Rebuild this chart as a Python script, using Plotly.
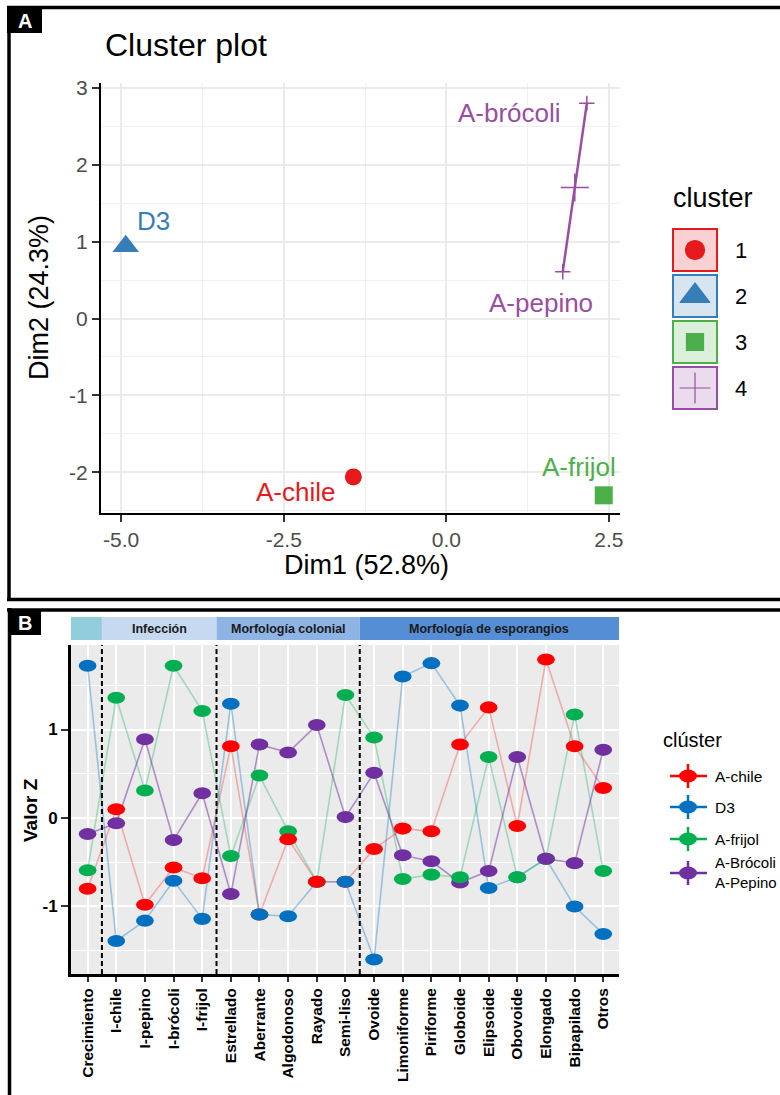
import plotly.graph_objects as go

W, H = 780, 1095


def px(x):
    return x / W


def py(y):
    return 1 - y / H


FONT = "Liberation Sans, Arial, sans-serif"

# ---------------- Panel A: PCA cluster plot ----------------
sample_names = ["D3", "A-chile", "A-frijol", "A-brócoli", "A-pepino"]
dim1 = [-4.93, -1.43, 2.42, 2.16, 1.79]
dim2 = [0.94, -2.06, -2.30, 2.80, 0.61]
cluster_id = [2, 1, 3, 4, 4]
cluster_levels = [1, 2, 3, 4]
dim1_ticks = [-5.0, -2.5, 0.0, 2.5]
dim2_ticks = [-2, -1, 0, 1, 2, 3]

cluster_colors = ["#E41A1C", "#377EB8", "#4DAF4A", "#984EA3"]
cluster_fills = ["rgba(228,26,28,0.2)", "rgba(55,126,184,0.2)",
                 "rgba(77,175,74,0.2)", "rgba(152,78,163,0.2)"]
cluster_symbols = ["circle", "triangle-up", "square", "cross-thin-open"]
single_sizes = [17, 23, 18, 20]

# ---------------- Panel B: Z-score profiles ----------------
variables = ["Crecimiento", "I-chile", "I-pepino", "I-brócoli", "I-frijol",
             "Estrellado", "Aberrante", "Algodonoso", "Rayado", "Semi-liso",
             "Ovoide", "Limoniforme", "Piriforme", "Globoide", "Elipsoide",
             "Obovoide", "Elongado", "Bipapilado", "Otros"]
group_names = ["", "Infección", "Morfología colonial", "Morfología de esporangios"]
group_sizes = [1, 4, 5, 9]
group_colors = ["#92CDDC", "#C6D9F1", "#8DB4E2", "#558ED5"]
z_ticks = [-1, 0, 1]

series_names = ["A-chile", "D3", "A-frijol", "A-Brócoli\nA-Pepino"]
z_chile = [-0.80, 0.10, -0.98, -0.56, -0.68, 0.81, -1.09, -0.24, -0.72, -0.72,
           -0.35, -0.12, -0.15, 0.83, 1.25, -0.09, 1.79, 0.81, 0.34]
z_d3 = [1.72, -1.39, -1.16, -0.71, -1.14, 1.29, -1.09, -1.11, -0.72, -0.72,
        -1.60, 1.60, 1.75, 1.27, -0.79, -0.67, -0.46, -1.00, -1.31]
z_frijol = [-0.59, 1.36, 0.31, 1.72, 1.21, -0.43, 0.48, -0.15, -0.72, 1.39,
            0.91, -0.69, -0.64, -0.67, 0.69, -0.67, -0.46, 1.17, -0.60]
z_broc_pep = [-0.18, -0.06, 0.89, -0.25, 0.28, -0.86, 0.83, 0.74, 1.05, 0.01,
              0.51, -0.42, -0.49, -0.73, -0.60, 0.69, -0.46, -0.51, 0.77]
series_values = [z_chile, z_d3, z_frijol, z_broc_pep]
series_colors = ["#FF0000", "#0070C0", "#00B050", "#7030A0"]
series_lines = ["rgba(255,0,0,0.28)", "rgba(0,112,192,0.35)",
                "rgba(0,176,80,0.32)", "rgba(112,48,160,0.5)"]
# stacking of overlapping points (last drawn is on top)
default_stack = [0, 1, 2, 3]
stack_override = {"Algodonoso": [1, 2, 0, 3], "Rayado": [1, 2, 0, 3],
                  "Globoide": [0, 1, 3, 2]}


def fmt_tick(v, dec):
    return f"{v:.{dec}f}".replace("\u2212", "-")


fig = go.Figure()
shapes = []
annotations = []

# ---- Panel A traces
for k, c in enumerate(cluster_levels):
    idx = [i for i, cid in enumerate(cluster_id) if cid == c]
    xs = [dim1[i] for i in idx]
    ys = [dim2[i] for i in idx]
    col = cluster_colors[k]
    if len(idx) > 1:
        fig.add_trace(go.Scatter(x=xs, y=ys, mode="lines", xaxis="x", yaxis="y",
                                 line=dict(color=col, width=2.5),
                                 showlegend=False, hoverinfo="skip"))
        fig.add_trace(go.Scatter(x=xs, y=ys, mode="markers", xaxis="x", yaxis="y",
                                 marker=dict(symbol=cluster_symbols[k], size=11,
                                             color=col, line=dict(color=col, width=1.5)),
                                 text=[sample_names[i] for i in idx],
                                 showlegend=False))
        cx = sum(xs) / len(xs)
        cy = sum(ys) / len(ys)
        fig.add_trace(go.Scatter(x=[cx], y=[cy], mode="markers", xaxis="x", yaxis="y",
                                 marker=dict(symbol=cluster_symbols[k], size=20,
                                             color=col, line=dict(color=col, width=1.5)),
                                 showlegend=False, hoverinfo="skip"))
    else:
        fig.add_trace(go.Scatter(x=xs, y=ys, mode="markers", xaxis="x", yaxis="y",
                                 marker=dict(symbol=cluster_symbols[k],
                                             size=single_sizes[k], color=col,
                                             line=dict(width=0)),
                                 text=[sample_names[i] for i in idx],
                                 showlegend=False))

# point labels
label_anchor = ["left", "right", "right", "right", "right"]
label_dx = [9, -16, 14, -24, 32]
label_dy = [25, -15, 28, -10, -31]
for i, name in enumerate(sample_names):
    k = cluster_levels.index(cluster_id[i])
    annotations.append(dict(x=dim1[i], y=dim2[i], xref="x", yref="y", text=name,
                            showarrow=False, xanchor=label_anchor[i], yanchor="middle",
                            xshift=label_dx[i], yshift=label_dy[i],
                            font=dict(size=26, color=cluster_colors[k], family=FONT)))

# ---- Panel B traces
pos = list(range(len(variables)))
for s, name in enumerate(series_names):
    fig.add_trace(go.Scatter(x=pos, y=series_values[s], mode="lines",
                             xaxis="x2", yaxis="y2",
                             line=dict(color=series_lines[s], width=1.6),
                             name=name.replace("\n", " / "), showlegend=False,
                             text=variables, hoverinfo="text+y+name"))

# plot background for panel B
shapes.append(dict(type="rect", xref="x2 domain", yref="y2 domain", x0=0, x1=1, y0=0, y1=1,
                   fillcolor="#EBEBEB", line=dict(width=0), layer="below"))

# group strips and separators
X2_RANGE = [-0.58, 18.55]
bounds = [X2_RANGE[0]]
acc = 0
for g in group_sizes[:-1]:
    acc += g
    bounds.append(acc - 0.5)
bounds.append(X2_RANGE[1])
acc = 0
for g, gname in enumerate(group_names):
    shapes.append(dict(type="rect", xref="x2", yref="paper",
                       x0=bounds[g], x1=bounds[g + 1], y0=py(640), y1=py(617),
                       fillcolor=group_colors[g], line=dict(width=0), layer="above"))
    centre = acc + (group_sizes[g] - 1) / 2
    acc += group_sizes[g]
    if gname:
        annotations.append(dict(x=centre, y=py(629), xref="x2", yref="paper", text=gname,
                                showarrow=False, xanchor="center", yanchor="middle",
                                font=dict(size=12.5, color="#1A1A1A", family=FONT,
                                          weight="bold")))
for b in bounds[1:-1]:
    shapes.append(dict(type="line", xref="x2", yref="y2 domain", x0=b, x1=b, y0=0, y1=1,
                       line=dict(color="black", width=2, dash="5px,3px"), layer="above"))

# elliptical point marks
EW, EH = 0.31, 0.068
for i, var in enumerate(variables):
    for s in stack_override.get(var, default_stack):
        v = series_values[s][i]
        shapes.append(dict(type="circle", xref="x2", yref="y2",
                           x0=pos[i] - EW, x1=pos[i] + EW, y0=v - EH, y1=v + EH,
                           fillcolor=series_colors[s], line=dict(width=0), layer="above"))

# ---- Panel A legend (boxes + symbols on a pixel-space axis)
leg_y = [250, 296, 342, 388]
leg_sizes = [19, 26, 17, 22]
for k, c in enumerate(cluster_levels):
    shapes.append(dict(type="rect", xref="paper", yref="paper", layer="below",
                       x0=px(673), x1=px(717), y0=py(leg_y[k] + 21), y1=py(leg_y[k] - 21),
                       fillcolor=cluster_fills[k], line=dict(color=cluster_colors[k], width=2)))
    annotations.append(dict(x=px(733), y=py(leg_y[k]), xref="paper", yref="paper",
                            text=str(c), showarrow=False, xanchor="left", yanchor="middle",
                            font=dict(size=22, color="black", family=FONT)))
fig.add_trace(go.Scatter(x=[695] * 4, y=leg_y, mode="markers", xaxis="x3", yaxis="y3",
                         marker=dict(symbol=cluster_symbols, size=leg_sizes,
                                     color=cluster_colors, opacity=1,
                                     line=dict(color=cluster_colors, width=1.2)),
                         showlegend=False, hoverinfo="skip"))
annotations.append(dict(x=px(671), y=py(198), xref="paper", yref="paper", text="cluster",
                        showarrow=False, xanchor="left", yanchor="middle",
                        font=dict(size=27, color="black", family=FONT)))

# ---- Panel B legend
legB_y = [776, 807, 839, 873]
for s, name in enumerate(series_names):
    yc = legB_y[s]
    col = series_colors[s]
    shapes.append(dict(type="line", xref="paper", yref="paper", x0=px(670), x1=px(707),
                       y0=py(yc), y1=py(yc), line=dict(color=col, width=2.5)))
    shapes.append(dict(type="line", xref="paper", yref="paper", x0=px(688), x1=px(688),
                       y0=py(yc - 12), y1=py(yc + 12), line=dict(color=col, width=2.5)))
    shapes.append(dict(type="circle", xref="paper", yref="paper", x0=px(679), x1=px(697),
                       y0=py(yc + 6.5), y1=py(yc - 6.5), fillcolor=col, line=dict(width=0)))
    annotations.append(dict(x=px(713), y=py(yc), xref="paper", yref="paper",
                            text=name.replace("\n", "<br>"), showarrow=False,
                            xanchor="left", yanchor="middle", align="left",
                            font=dict(size=15.5 if "\n" not in name else 15,
                                      color="black", family=FONT)))
annotations.append(dict(x=px(661), y=py(740), xref="paper", yref="paper", text="clúster",
                        showarrow=False, xanchor="left", yanchor="middle",
                        font=dict(size=20, color="black", family=FONT)))

# ---- Titles
annotations += [
    dict(x=px(103), y=py(45), xref="paper", yref="paper", text="Cluster plot",
         showarrow=False, xanchor="left", yanchor="middle",
         font=dict(size=32, color="black", family=FONT)),
    dict(x=px(366), y=py(565), xref="paper", yref="paper", text="Dim1 (52.8%)",
         showarrow=False, xanchor="center", yanchor="middle",
         font=dict(size=27, color="black", family=FONT)),
    dict(x=px(39), y=py(298), xref="paper", yref="paper", text="Dim2 (24.3%)",
         showarrow=False, xanchor="center", yanchor="middle", textangle=-90,
         font=dict(size=27, color="black", family=FONT)),
    dict(x=px(30), y=py(810), xref="paper", yref="paper", text="Valor Z",
         showarrow=False, xanchor="center", yanchor="middle", textangle=-90,
         font=dict(size=19, color="black", family=FONT, weight="bold")),
]

# ---- Panel frames and tags
frame = dict(color="black", width=3.5)
shapes += [
    dict(type="line", xref="paper", yref="paper", x0=px(7), x1=px(790), y0=py(7.5), y1=py(7.5), line=frame),
    dict(type="line", xref="paper", yref="paper", x0=px(9), x1=px(9), y0=py(6), y1=py(601), line=frame),
    dict(type="line", xref="paper", yref="paper", x0=px(7), x1=px(790), y0=py(599.5), y1=py(599.5), line=frame),
    dict(type="line", xref="paper", yref="paper", x0=px(7), x1=px(790), y0=py(610), y1=py(610), line=frame),
    dict(type="line", xref="paper", yref="paper", x0=px(9.5), x1=px(9.5), y0=py(608), y1=py(1100), line=frame),
    dict(type="rect", xref="paper", yref="paper", x0=px(7), x1=px(42), y0=py(33), y1=py(8),
         fillcolor="black", line=dict(width=0)),
    dict(type="rect", xref="paper", yref="paper", x0=px(8), x1=px(41), y0=py(635), y1=py(609),
         fillcolor="black", line=dict(width=0)),
]
annotations += [
    dict(x=px(24.5), y=py(21), xref="paper", yref="paper", text="A", showarrow=False,
         xanchor="center", yanchor="middle",
         font=dict(size=20, color="white", family=FONT, weight="bold")),
    dict(x=px(24.5), y=py(622.5), xref="paper", yref="paper", text="B", showarrow=False,
         xanchor="center", yanchor="middle",
         font=dict(size=20, color="white", family=FONT, weight="bold")),
]

fig.update_layout(
    width=W, height=H,
    margin=dict(l=0, r=0, t=0, b=0, autoexpand=False),
    paper_bgcolor="white",
    plot_bgcolor="rgba(0,0,0,0)",
    font=dict(family=FONT),
    showlegend=False,
    shapes=shapes,
    annotations=annotations,
    xaxis=dict(domain=[px(101), px(620)], range=[-5.31, 2.67], anchor="y", automargin=False,
               tickvals=dim1_ticks, ticktext=[fmt_tick(v, 1) for v in dim1_ticks],
               showgrid=True, gridcolor="#EBEBEB", gridwidth=1.5, zeroline=False,
               minor=dict(tickvals=[-3.75, -1.25, 1.25], showgrid=True,
                          gridcolor="#F0F0F0", gridwidth=1, ticks=""),
               showline=True, linecolor="black", linewidth=2,
               ticks="outside", ticklen=7, tickwidth=1.5, tickcolor="#333333",
               tickfont=dict(size=21, color="#4D4D4D", family=FONT)),
    yaxis=dict(domain=[py(513), py(83)], range=[-2.53, 3.065], anchor="x", automargin=False,
               tickvals=dim2_ticks, ticktext=[fmt_tick(v, 0) for v in dim2_ticks],
               showgrid=True, gridcolor="#EBEBEB", gridwidth=1.5, zeroline=False,
               minor=dict(tickvals=[-2.5, -1.5, -0.5, 0.5, 1.5, 2.5], showgrid=True,
                          gridcolor="#F0F0F0", gridwidth=1, ticks=""),
               showline=True, linecolor="black", linewidth=2,
               ticks="outside", ticklen=7, tickwidth=1.5, tickcolor="#333333",
               tickfont=dict(size=21, color="#4D4D4D", family=FONT)),
    xaxis2=dict(domain=[px(71), px(619)], range=X2_RANGE, anchor="y2", automargin=False,
                tickvals=pos, ticktext=variables, tickangle=-90,
                showgrid=True, gridcolor="white", gridwidth=2, zeroline=False,
                showline=True, linecolor="black", linewidth=3,
                ticks="outside", ticklen=5, tickwidth=1.5, tickcolor="#333333",
                tickfont=dict(size=15.5, color="black", family=FONT, weight="bold")),
    yaxis2=dict(domain=[py(974), py(645)], range=[-1.763, 1.955], anchor="x2", automargin=False,
                tickvals=z_ticks, ticktext=[fmt_tick(v, 0) for v in z_ticks],
                showgrid=True, gridcolor="white", gridwidth=2, zeroline=False,
                minor=dict(tickvals=[-1.5, -0.5, 0.5, 1.5], showgrid=True,
                           gridcolor="white", gridwidth=1, ticks=""),
                showline=True, linecolor="black", linewidth=3,
                ticks="outside", ticklen=7, tickwidth=1.5, tickcolor="#333333",
                tickfont=dict(size=17, color="black", family=FONT, weight="bold")),
    xaxis3=dict(domain=[0, 1], range=[0, W], anchor="y3", visible=False, fixedrange=True,
                automargin=False),
    yaxis3=dict(domain=[0, 1], range=[H, 0], anchor="x3", visible=False, fixedrange=True,
                automargin=False),
)

fig.write_html("out.html")
